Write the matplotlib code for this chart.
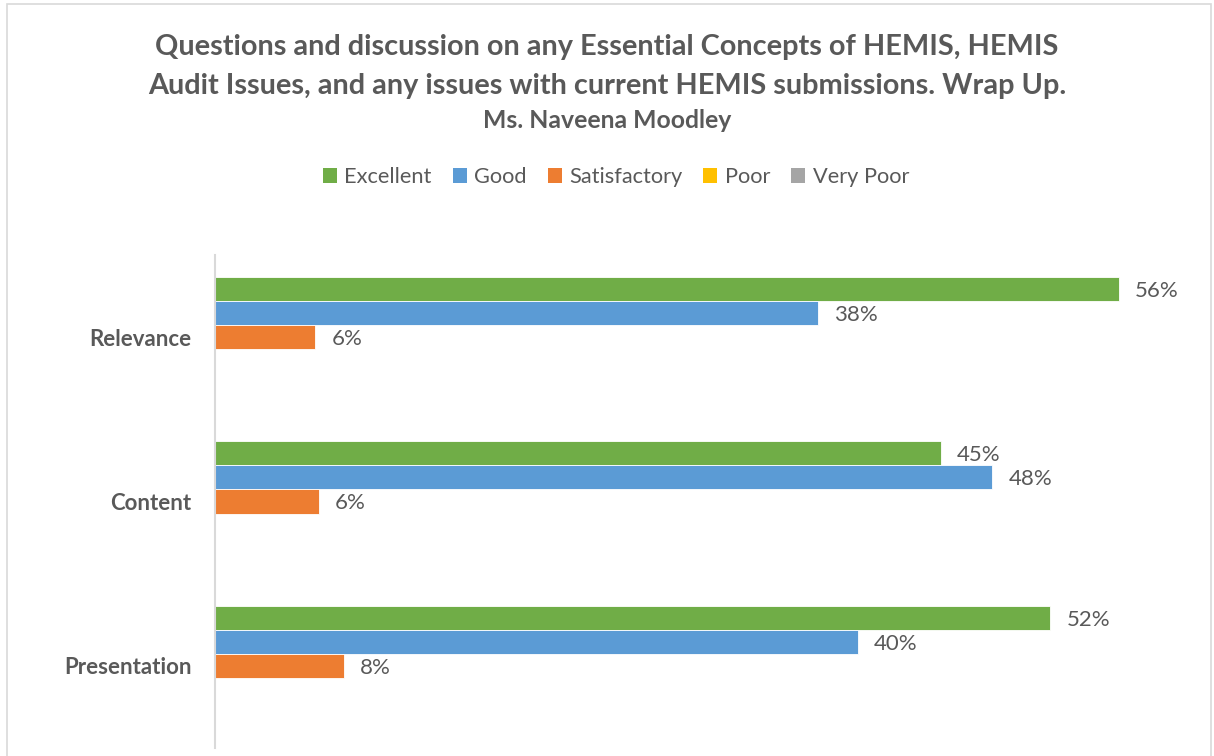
import numpy as np
import matplotlib.pyplot as plt
from matplotlib.patches import Rectangle, Patch

plt.rcParams['font.family'] = ['Lato', 'DejaVu Sans']

categories = ["Relevance", "Content", "Presentation"]
series = ["Excellent", "Good", "Satisfactory", "Poor", "Very Poor"]
excellent = [56.25, 45.16, 52.0]
good = [37.5, 48.39, 40.0]
satisfactory = [6.25, 6.45, 8.0]
poor = [0, 0, 0]
very_poor = [0, 0, 0]
colors = ["#70AD47", "#5B9BD5", "#ED7D31", "#FFC000", "#A5A5A5"]

values = [excellent, good, satisfactory, poor, very_poor]
text_col = "#595959"

fig = plt.figure(figsize=(12.14, 7.56), dpi=100)
ax = fig.add_axes([215 / 1214, 8 / 756, 964 / 1214, 493 / 756])

y = np.arange(len(categories))
h = 24 / 164
for i, (vals, col) in enumerate(zip(values, colors)):
    pos = y + (i - 2) * h
    ax.barh(pos, vals, height=h, color=col, edgecolor="white", linewidth=0.6)
    for p, v in zip(pos, vals):
        if v > 0:
            ax.text(v + 1.0, p + 0.012, f"{v:.0f}%", va="center", ha="left",
                    fontsize=16, color=text_col)

ax.set_xlim(0, 60)
ax.set_ylim(2.5, -0.5)
ax.set_yticks(y)
ax.set_yticklabels(categories, fontsize=16, fontweight="bold", color=text_col)
ax.tick_params(axis="y", length=0, pad=17)
ax.set_xticks([])
for s in ["top", "right", "bottom"]:
    ax.spines[s].set_visible(False)
ax.spines["left"].set_color("#D9D9D9")
ax.spines["left"].set_linewidth(1.5)

fig.text(0.5, 1 - 47 / 756, "Questions and discussion on any Essential Concepts of HEMIS, HEMIS",
         ha="center", va="center", fontsize=20.8, fontweight="bold", color=text_col)
fig.text(0.5, 1 - 86 / 756, "Audit Issues, and any issues with current HEMIS submissions. Wrap Up.",
         ha="center", va="center", fontsize=20.8, fontweight="bold", color=text_col)
fig.text(0.5, 1 - 121 / 756, "Ms. Naveena Moodley",
         ha="center", va="center", fontsize=17.8, fontweight="bold", color=text_col)

handles = [Patch(facecolor=c, label=s) for s, c in zip(series, colors)]
leg = fig.legend(handles=handles, loc="center", bbox_to_anchor=(616 / 1214, 1 - 177 / 756),
                 ncol=5, frameon=False, fontsize=15.7, handlelength=0.65, handleheight=0.65,
                 handletextpad=0.35, columnspacing=0.95)
for t in leg.get_texts():
    t.set_color(text_col)

fig.patches.append(Rectangle((7 / 1214, -0.01), 1204 / 1214, 1 - 4 / 756 + 0.01,
                             transform=fig.transFigure, fill=False,
                             edgecolor="#D9D9D9", linewidth=1.2))

fig.savefig("out.png", dpi=100)
